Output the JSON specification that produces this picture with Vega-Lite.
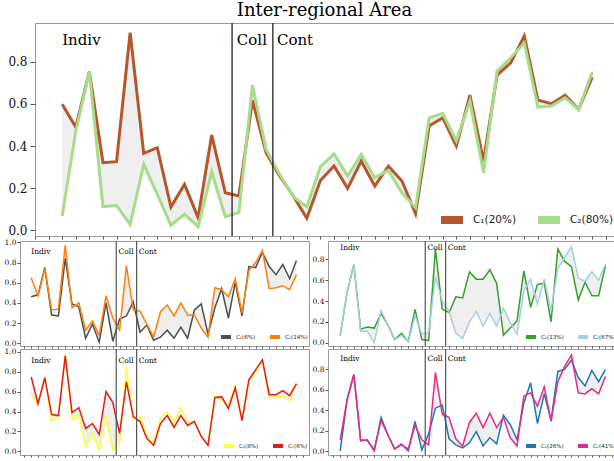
{
"$schema": "https://vega.github.io/schema/vega-lite/v6.json",
"autosize": {"type": "pad"},
"padding": {"left": 3, "top": 1, "right": 0, "bottom": 0},
"background": "white",
"config": {
  "view": {"stroke": "#999", "strokeWidth": 1},
  "axis": {"grid": false, "domain": false, "title": null, "labelColor": "#111", "tickColor": "#555", "labelOverlap": false},
  "legend": {"title": null, "orient": "bottom-right", "direction": "horizontal", "symbolType": "stroke", "labelFont": "DejaVu Sans", "labelColor": "#222", "padding": 0, "labelLimit": 0}
},
"datasets": {
  "top": [
    {"i":0,"c1":0.598,"c2":0.068},{"i":1,"c1":0.49,"c2":0.47},{"i":2,"c1":0.753,"c2":0.753},{"i":3,"c1":0.321,"c2":0.112},
    {"i":4,"c1":0.326,"c2":0.118},{"i":5,"c1":0.938,"c2":0.028},{"i":6,"c1":0.365,"c2":0.313},{"i":7,"c1":0.392,"c2":0.171},
    {"i":8,"c1":0.11,"c2":0.024},{"i":9,"c1":0.218,"c2":0.076},{"i":10,"c1":0.06,"c2":0.017},{"i":11,"c1":0.452,"c2":0.277},
    {"i":12,"c1":0.178,"c2":0.065},{"i":13,"c1":0.163,"c2":0.084},{"i":14,"c1":0.617,"c2":0.689},{"i":15,"c1":0.368,"c2":0.384},
    {"i":16,"c1":0.258,"c2":0.266},{"i":17,"c1":0.163,"c2":0.16},{"i":18,"c1":0.057,"c2":0.112},{"i":19,"c1":0.236,"c2":0.302},
    {"i":20,"c1":0.305,"c2":0.363},{"i":21,"c1":0.199,"c2":0.258},{"i":22,"c1":0.329,"c2":0.36},{"i":23,"c1":0.21,"c2":0.25},
    {"i":24,"c1":0.305,"c2":0.285},{"i":25,"c1":0.234,"c2":0.178},{"i":26,"c1":0.079,"c2":0.107},{"i":27,"c1":0.495,"c2":0.534},
    {"i":28,"c1":0.534,"c2":0.555},{"i":29,"c1":0.40,"c2":0.424},{"i":30,"c1":0.642,"c2":0.614},{"i":31,"c1":0.329,"c2":0.273},
    {"i":32,"c1":0.737,"c2":0.756},{"i":33,"c1":0.795,"c2":0.819},{"i":34,"c1":0.922,"c2":0.89},{"i":35,"c1":0.618,"c2":0.585},
    {"i":36,"c1":0.601,"c2":0.59},{"i":37,"c1":0.641,"c2":0.629},{"i":38,"c1":0.574,"c2":0.574},{"i":39,"c1":0.727,"c2":0.751}
  ],
  "a": [
    {"i":0,"c1":0.46,"c2":0.65},{"i":1,"c1":0.48,"c2":0.47},{"i":2,"c1":0.75,"c2":0.74},{"i":3,"c1":0.28,"c2":0.33},
    {"i":4,"c1":0.27,"c2":0.34},{"i":5,"c1":0.84,"c2":0.97},{"i":6,"c1":0.39,"c2":0.35},{"i":7,"c1":0.36,"c2":0.40},
    {"i":8,"c1":0.05,"c2":0.13},{"i":9,"c1":0.19,"c2":0.22},{"i":10,"c1":0.01,"c2":0.08},{"i":11,"c1":0.40,"c2":0.47},
    {"i":12,"c1":0.02,"c2":0.25},{"i":13,"c1":0.24,"c2":0.13},{"i":14,"c1":0.27,"c2":0.77},{"i":15,"c1":0.41,"c2":0.33},
    {"i":16,"c1":0.11,"c2":0.32},{"i":17,"c1":0.18,"c2":0.19},{"i":18,"c1":0.03,"c2":0.06},{"i":19,"c1":0.06,"c2":0.31},
    {"i":20,"c1":0.13,"c2":0.38},{"i":21,"c1":0.05,"c2":0.27},{"i":22,"c1":0.16,"c2":0.40},{"i":23,"c1":0.05,"c2":0.28},
    {"i":24,"c1":0.33,"c2":0.28},{"i":25,"c1":0.39,"c2":0.15},{"i":26,"c1":0.09,"c2":0.06},{"i":27,"c1":0.35,"c2":0.55},
    {"i":28,"c1":0.54,"c2":0.53},{"i":29,"c1":0.25,"c2":0.46},{"i":30,"c1":0.60,"c2":0.64},{"i":31,"c1":0.27,"c2":0.30},
    {"i":32,"c1":0.76,"c2":0.72},{"i":33,"c1":0.75,"c2":0.80},{"i":34,"c1":0.90,"c2":0.92},{"i":35,"c1":0.76,"c2":0.54},
    {"i":36,"c1":0.68,"c2":0.55},{"i":37,"c1":0.78,"c2":0.57},{"i":38,"c1":0.64,"c2":0.53},{"i":39,"c1":0.82,"c2":0.68}
  ],
  "b": [
    {"i":0,"c1":0.07,"c2":0.07},{"i":1,"c1":0.48,"c2":0.48},{"i":2,"c1":0.75,"c2":0.75},{"i":3,"c1":0.13,"c2":0.11},
    {"i":4,"c1":0.15,"c2":0.11},{"i":5,"c1":0.14,"c2":0.0},{"i":6,"c1":0.28,"c2":0.31},{"i":7,"c1":0.17,"c2":0.17},
    {"i":8,"c1":0.03,"c2":0.03},{"i":9,"c1":0.09,"c2":0.07},{"i":10,"c1":0.01,"c2":0.01},{"i":11,"c1":0.32,"c2":0.26},
    {"i":12,"c1":0.03,"c2":0.08},{"i":13,"c1":0.02,"c2":0.10},{"i":14,"c1":0.90,"c2":0.63},{"i":15,"c1":0.32,"c2":0.40},
    {"i":16,"c1":0.29,"c2":0.30},{"i":17,"c1":0.44,"c2":0.09},{"i":18,"c1":0.43,"c2":0.04},{"i":19,"c1":0.68,"c2":0.20},
    {"i":20,"c1":0.61,"c2":0.30},{"i":21,"c1":0.61,"c2":0.16},{"i":22,"c1":0.70,"c2":0.28},{"i":23,"c1":0.57,"c2":0.16},
    {"i":24,"c1":0.07,"c2":0.33},{"i":25,"c1":0.14,"c2":0.19},{"i":26,"c1":0.21,"c2":0.08},{"i":27,"c1":0.69,"c2":0.50},
    {"i":28,"c1":0.34,"c2":0.61},{"i":29,"c1":0.56,"c2":0.37},{"i":30,"c1":0.57,"c2":0.61},{"i":31,"c1":0.20,"c2":0.31},
    {"i":32,"c1":0.90,"c2":0.71},{"i":33,"c1":0.78,"c2":0.82},{"i":34,"c1":0.73,"c2":0.92},{"i":35,"c1":0.41,"c2":0.62},
    {"i":36,"c1":0.58,"c2":0.59},{"i":37,"c1":0.45,"c2":0.68},{"i":38,"c1":0.45,"c2":0.60},{"i":39,"c1":0.74,"c2":0.75}
  ],
  "c": [
    {"i":0,"c1":0.57,"c2":0.75},{"i":1,"c1":0.47,"c2":0.48},{"i":2,"c1":0.76,"c2":0.74},{"i":3,"c1":0.30,"c2":0.37},
    {"i":4,"c1":0.33,"c2":0.36},{"i":5,"c1":0.98,"c2":0.96},{"i":6,"c1":0.32,"c2":0.39},{"i":7,"c1":0.37,"c2":0.44},
    {"i":8,"c1":0.05,"c2":0.23},{"i":9,"c1":0.18,"c2":0.28},{"i":10,"c1":0.01,"c2":0.17},{"i":11,"c1":0.36,"c2":0.60},
    {"i":12,"c1":0.02,"c2":0.49},{"i":13,"c1":0.08,"c2":0.18},{"i":14,"c1":0.85,"c2":0.70},{"i":15,"c1":0.32,"c2":0.35},
    {"i":16,"c1":0.35,"c2":0.30},{"i":17,"c1":0.16,"c2":0.13},{"i":18,"c1":0.08,"c2":0.06},{"i":19,"c1":0.34,"c2":0.28},
    {"i":20,"c1":0.40,"c2":0.36},{"i":21,"c1":0.30,"c2":0.24},{"i":22,"c1":0.44,"c2":0.36},{"i":23,"c1":0.30,"c2":0.26},
    {"i":24,"c1":0.29,"c2":0.30},{"i":25,"c1":0.15,"c2":0.15},{"i":26,"c1":0.07,"c2":0.06},{"i":27,"c1":0.56,"c2":0.54},
    {"i":28,"c1":0.50,"c2":0.55},{"i":29,"c1":0.47,"c2":0.43},{"i":30,"c1":0.65,"c2":0.64},{"i":31,"c1":0.32,"c2":0.31},
    {"i":32,"c1":0.70,"c2":0.72},{"i":33,"c1":0.80,"c2":0.82},{"i":34,"c1":0.91,"c2":0.92},{"i":35,"c1":0.54,"c2":0.57},
    {"i":36,"c1":0.55,"c2":0.57},{"i":37,"c1":0.55,"c2":0.61},{"i":38,"c1":0.51,"c2":0.56},{"i":39,"c1":0.69,"c2":0.68}
  ],
  "d": [
    {"i":0,"c1":0.0,"c2":0.11},{"i":1,"c1":0.50,"c2":0.50},{"i":2,"c1":0.75,"c2":0.75},{"i":3,"c1":0.10,"c2":0.11},
    {"i":4,"c1":0.11,"c2":0.10},{"i":5,"c1":0.0,"c2":0.01},{"i":6,"c1":0.33,"c2":0.30},{"i":7,"c1":0.16,"c2":0.16},
    {"i":8,"c1":0.02,"c2":0.02},{"i":9,"c1":0.07,"c2":0.06},{"i":10,"c1":0.0,"c2":0.02},{"i":11,"c1":0.29,"c2":0.25},
    {"i":12,"c1":0.01,"c2":0.11},{"i":13,"c1":0.17,"c2":0.06},{"i":14,"c1":0.42,"c2":0.77},{"i":15,"c1":0.45,"c2":0.36},
    {"i":16,"c1":0.12,"c2":0.33},{"i":17,"c1":0.06,"c2":0.12},{"i":18,"c1":0.03,"c2":0.05},{"i":19,"c1":0.08,"c2":0.28},
    {"i":20,"c1":0.19,"c2":0.37},{"i":21,"c1":0.05,"c2":0.23},{"i":22,"c1":0.13,"c2":0.37},{"i":23,"c1":0.07,"c2":0.23},
    {"i":24,"c1":0.35,"c2":0.33},{"i":25,"c1":0.26,"c2":0.13},{"i":26,"c1":0.11,"c2":0.05},{"i":27,"c1":0.47,"c2":0.54},
    {"i":28,"c1":0.67,"c2":0.57},{"i":29,"c1":0.27,"c2":0.44},{"i":30,"c1":0.56,"c2":0.63},{"i":31,"c1":0.30,"c2":0.29},
    {"i":32,"c1":0.78,"c2":0.68},{"i":33,"c1":0.80,"c2":0.83},{"i":34,"c1":0.89,"c2":0.94},{"i":35,"c1":0.72,"c2":0.57},
    {"i":36,"c1":0.64,"c2":0.56},{"i":37,"c1":0.79,"c2":0.61},{"i":38,"c1":0.68,"c2":0.56},{"i":39,"c1":0.80,"c2":0.73}
  ],
  "cuts": [{"x":12.5},{"x":15.5}],
  "labels": [{"t":"Indiv","x":0,"y":0.905},{"t":"Coll","x":12.85,"y":0.905},{"t":"Cont","x":15.8,"y":0.905}]
},
"spacing": -3,
"resolve": {"scale": {"x":"independent","y":"independent","color":"independent"}, "legend": {"color":"independent"}, "axis": {"x":"independent","y":"independent"}},
"vconcat": [
  {
    "bounds": "flush", "spacing": 14,
    "resolve": {"scale": {"x":"independent","y":"independent","color":"independent"}, "legend": {"color":"independent"}},
    "hconcat": [
      {"width": 1, "height": 1, "data": {"values": []}, "mark": "point", "view": {"stroke": null}},
      {
        "width": 579, "height": 213,
        "title": {"text": "Inter-regional Area", "font": "DejaVu Serif", "fontSize": 18, "fontWeight": "normal", "anchor": "middle", "baseline": "alphabetic", "offset": -12, "color": "#000"},
        "layer": [
          {"data": {"name": "top"}, "mark": {"type": "area", "color": "#efefef", "opacity": 1},
           "encoding": {
             "x": {"field": "i", "type": "quantitative", "scale": {"domain": [-2, 40.6], "nice": false, "zero": false},
                   "axis": {"values": [-2,-1,0,1,2,3,4,5,6,7,8,9,10,11,12,13,14,15,16,17,18,19,20,21,22,23,24,25,26,27,28,29,30,31,32,33,34,35,36,37,38,39,40], "tickCount": 100, "labels": false, "tickSize": 3}},
             "y": {"field": "c1", "type": "quantitative", "scale": {"domain": [-0.027, 0.984], "nice": false, "zero": false},
                   "axis": {"values": [0, 0.2, 0.4, 0.6, 0.8], "tickCount": 50, "format": ".1f", "labelFont": "DejaVu Serif", "labelFontSize": 12, "tickSize": 5, "labelPadding": 3}},
             "y2": {"field": "c2"}}},
          {"data": {"name": "top"}, "mark": {"type": "line", "strokeWidth": 3},
           "encoding": {"x": {"field": "i", "type": "quantitative"}, "y": {"field": "c1", "type": "quantitative"},
             "color": {"datum": "C₁(20%)", "type": "nominal", "scale": {"domain": ["C₁(20%)", "C₂(80%)"], "range": ["#b5572b", "#a6dc8a"]},
                       "legend": {"symbolSize": 484, "symbolStrokeWidth": 8, "labelFontSize": 10.5, "labelOffset": 6, "columnPadding": 5, "offset": 0}}}},
          {"data": {"name": "top"}, "mark": {"type": "line", "strokeWidth": 3},
           "encoding": {"x": {"field": "i", "type": "quantitative"}, "y": {"field": "c2", "type": "quantitative"},
             "color": {"datum": "C₂(80%)", "type": "nominal"}}},
          {"data": {"name": "cuts"}, "mark": {"type": "rule", "color": "#222", "strokeWidth": 1.3},
           "encoding": {"x": {"field": "x", "type": "quantitative"}}},
          {"data": {"name": "labels"}, "mark": {"type": "text", "font": "DejaVu Serif", "fontSize": 15, "align": "left", "baseline": "middle", "color": "#000"},
           "encoding": {"x": {"field": "x", "type": "quantitative"}, "y": {"field": "y", "type": "quantitative"}, "text": {"field": "t"}}}
        ]
      }
    ]
  },
  {
    "bounds": "flush", "spacing": 19,
    "resolve": {"scale": {"x":"independent","y":"independent","color":"independent"}, "legend": {"color":"independent"}},
    "hconcat": [
      {
        "width": 289, "height": 105,
        "layer": [
          {"data": {"name": "a"}, "mark": {"type": "area", "color": "#efefef"},
           "encoding": {
             "x": {"field": "i", "type": "quantitative", "scale": {"domain": [-1.65, 40.85], "nice": false, "zero": false},
                   "axis": {"values": [-1,0,1,2,3,4,5,6,7,8,9,10,11,12,13,14,15,16,17,18,19,20,21,22,23,24,25,26,27,28,29,30,31,32,33,34,35,36,37,38,39,40], "tickCount": 100, "labels": false, "tickSize": 2}},
             "y": {"field": "c1", "type": "quantitative", "scale": {"domain": [-0.027, 1.013], "nice": false, "zero": false},
                   "axis": {"values": [0, 0.2, 0.4, 0.6, 0.8, 1.0], "tickCount": 50, "format": ".1f", "labelFont": "DejaVu Serif", "labelFontSize": 7.5, "tickSize": 3, "labelPadding": 1}},
             "y2": {"field": "c2"}}},
          {"data": {"name": "a"}, "mark": {"type": "line", "strokeWidth": 1.5},
           "encoding": {"x": {"field": "i", "type": "quantitative"}, "y": {"field": "c1", "type": "quantitative"},
             "color": {"datum": "C₁(6%)", "type": "nominal", "scale": {"domain": ["C₁(6%)", "C₂(14%)"], "range": ["#4d4d4d", "#ff7f0e"]},
                       "legend": {"symbolSize": 100, "symbolStrokeWidth": 4, "labelFontSize": 5.5, "labelOffset": 3, "columnPadding": 6, "offset": 1}}}},
          {"data": {"name": "a"}, "mark": {"type": "line", "strokeWidth": 1.5},
           "encoding": {"x": {"field": "i", "type": "quantitative"}, "y": {"field": "c2", "type": "quantitative"},
             "color": {"datum": "C₂(14%)", "type": "nominal"}}},
          {"data": {"name": "cuts"}, "mark": {"type": "rule", "color": "#555", "strokeWidth": 1.2},
           "encoding": {"x": {"field": "x", "type": "quantitative"}}},
          {"data": {"name": "labels"}, "mark": {"type": "text", "font": "DejaVu Serif", "fontSize": 7.5, "align": "left", "baseline": "middle", "color": "#000"},
           "encoding": {"x": {"field": "x", "type": "quantitative"}, "y": {"field": "y", "type": "quantitative"}, "text": {"field": "t"}}}
        ]
      },
      {
        "width": 289, "height": 105,
        "layer": [
          {"data": {"name": "b"}, "mark": {"type": "area", "color": "#efefef"},
           "encoding": {
             "x": {"field": "i", "type": "quantitative", "scale": {"domain": [-1.8, 40.7], "nice": false, "zero": false},
                   "axis": {"values": [-1,0,1,2,3,4,5,6,7,8,9,10,11,12,13,14,15,16,17,18,19,20,21,22,23,24,25,26,27,28,29,30,31,32,33,34,35,36,37,38,39,40], "tickCount": 100, "labels": false, "tickSize": 2}},
             "y": {"field": "c1", "type": "quantitative", "scale": {"domain": [-0.032, 0.976], "nice": false, "zero": false},
                   "axis": {"values": [0, 0.2, 0.4, 0.6, 0.8], "tickCount": 50, "format": ".1f", "labelFont": "DejaVu Serif", "labelFontSize": 7.5, "tickSize": 3, "labelPadding": 1}},
             "y2": {"field": "c2"}}},
          {"data": {"name": "b"}, "mark": {"type": "line", "strokeWidth": 1.5},
           "encoding": {"x": {"field": "i", "type": "quantitative"}, "y": {"field": "c1", "type": "quantitative"},
             "color": {"datum": "C₁(13%)", "type": "nominal", "scale": {"domain": ["C₁(13%)", "C₂(67%)"], "range": ["#33a02c", "#a6cee3"]},
                       "legend": {"symbolSize": 100, "symbolStrokeWidth": 4, "labelFontSize": 5.5, "labelOffset": 3, "columnPadding": 6, "offset": 1}}}},
          {"data": {"name": "b"}, "mark": {"type": "line", "strokeWidth": 1.5},
           "encoding": {"x": {"field": "i", "type": "quantitative"}, "y": {"field": "c2", "type": "quantitative"},
             "color": {"datum": "C₂(67%)", "type": "nominal"}}},
          {"data": {"name": "cuts"}, "mark": {"type": "rule", "color": "#555", "strokeWidth": 1.2},
           "encoding": {"x": {"field": "x", "type": "quantitative"}}},
          {"data": {"name": "labels"}, "mark": {"type": "text", "font": "DejaVu Serif", "fontSize": 7.5, "align": "left", "baseline": "middle", "color": "#000"},
           "encoding": {"x": {"field": "x", "type": "quantitative"}, "y": {"field": "y", "type": "quantitative"}, "text": {"field": "t"}}}
        ]
      }
    ]
  },
  {
    "bounds": "flush", "spacing": 19,
    "resolve": {"scale": {"x":"independent","y":"independent","color":"independent"}, "legend": {"color":"independent"}},
    "hconcat": [
      {
        "width": 289, "height": 106,
        "layer": [
          {"data": {"name": "c"}, "mark": {"type": "area", "color": "#efefef"},
           "encoding": {
             "x": {"field": "i", "type": "quantitative", "scale": {"domain": [-1.65, 40.85], "nice": false, "zero": false},
                   "axis": {"values": [-1,0,1,2,3,4,5,6,7,8,9,10,11,12,13,14,15,16,17,18,19,20,21,22,23,24,25,26,27,28,29,30,31,32,33,34,35,36,37,38,39,40], "tickCount": 100, "labels": false, "tickSize": 2}},
             "y": {"field": "c1", "type": "quantitative", "scale": {"domain": [-0.037, 1.03], "nice": false, "zero": false},
                   "axis": {"values": [0, 0.2, 0.4, 0.6, 0.8, 1.0], "tickCount": 50, "format": ".1f", "labelFont": "DejaVu Serif", "labelFontSize": 7.5, "tickSize": 3, "labelPadding": 1}},
             "y2": {"field": "c2"}}},
          {"data": {"name": "c"}, "mark": {"type": "line", "strokeWidth": 1.5},
           "encoding": {"x": {"field": "i", "type": "quantitative"}, "y": {"field": "c1", "type": "quantitative"},
             "color": {"datum": "C₁(8%)", "type": "nominal", "scale": {"domain": ["C₁(8%)", "C₂(6%)"], "range": ["#ffff33", "#e41a1c"]},
                       "legend": {"symbolSize": 100, "symbolStrokeWidth": 4, "labelFontSize": 5.5, "labelOffset": 3, "columnPadding": 6, "offset": 1}}}},
          {"data": {"name": "c"}, "mark": {"type": "line", "strokeWidth": 1.5},
           "encoding": {"x": {"field": "i", "type": "quantitative"}, "y": {"field": "c2", "type": "quantitative"},
             "color": {"datum": "C₂(6%)", "type": "nominal"}}},
          {"data": {"name": "cuts"}, "mark": {"type": "rule", "color": "#555", "strokeWidth": 1.2},
           "encoding": {"x": {"field": "x", "type": "quantitative"}}},
          {"data": {"name": "labels"}, "mark": {"type": "text", "font": "DejaVu Serif", "fontSize": 7.5, "align": "left", "baseline": "middle", "color": "#000"},
           "encoding": {"x": {"field": "x", "type": "quantitative"}, "y": {"field": "y", "type": "quantitative"}, "text": {"field": "t"}}}
        ]
      },
      {
        "width": 289, "height": 106,
        "layer": [
          {"data": {"name": "d"}, "mark": {"type": "area", "color": "#efefef"},
           "encoding": {
             "x": {"field": "i", "type": "quantitative", "scale": {"domain": [-1.8, 40.7], "nice": false, "zero": false},
                   "axis": {"values": [-1,0,1,2,3,4,5,6,7,8,9,10,11,12,13,14,15,16,17,18,19,20,21,22,23,24,25,26,27,28,29,30,31,32,33,34,35,36,37,38,39,40], "tickCount": 100, "labels": false, "tickSize": 2}},
             "y": {"field": "c1", "type": "quantitative", "scale": {"domain": [-0.039, 1.0], "nice": false, "zero": false},
                   "axis": {"values": [0, 0.2, 0.4, 0.6, 0.8], "tickCount": 50, "format": ".1f", "labelFont": "DejaVu Serif", "labelFontSize": 7.5, "tickSize": 3, "labelPadding": 1}},
             "y2": {"field": "c2"}}},
          {"data": {"name": "d"}, "mark": {"type": "line", "strokeWidth": 1.5},
           "encoding": {"x": {"field": "i", "type": "quantitative"}, "y": {"field": "c1", "type": "quantitative"},
             "color": {"datum": "C₁(26%)", "type": "nominal", "scale": {"domain": ["C₁(26%)", "C₂(41%)"], "range": ["#1f78b4", "#e7298a"]},
                       "legend": {"symbolSize": 100, "symbolStrokeWidth": 4, "labelFontSize": 5.5, "labelOffset": 3, "columnPadding": 6, "offset": 1}}}},
          {"data": {"name": "d"}, "mark": {"type": "line", "strokeWidth": 1.5},
           "encoding": {"x": {"field": "i", "type": "quantitative"}, "y": {"field": "c2", "type": "quantitative"},
             "color": {"datum": "C₂(41%)", "type": "nominal"}}},
          {"data": {"name": "cuts"}, "mark": {"type": "rule", "color": "#555", "strokeWidth": 1.2},
           "encoding": {"x": {"field": "x", "type": "quantitative"}}},
          {"data": {"name": "labels"}, "mark": {"type": "text", "font": "DejaVu Serif", "fontSize": 7.5, "align": "left", "baseline": "middle", "color": "#000"},
           "encoding": {"x": {"field": "x", "type": "quantitative"}, "y": {"field": "y", "type": "quantitative"}, "text": {"field": "t"}}}
        ]
      }
    ]
  }
]
}
